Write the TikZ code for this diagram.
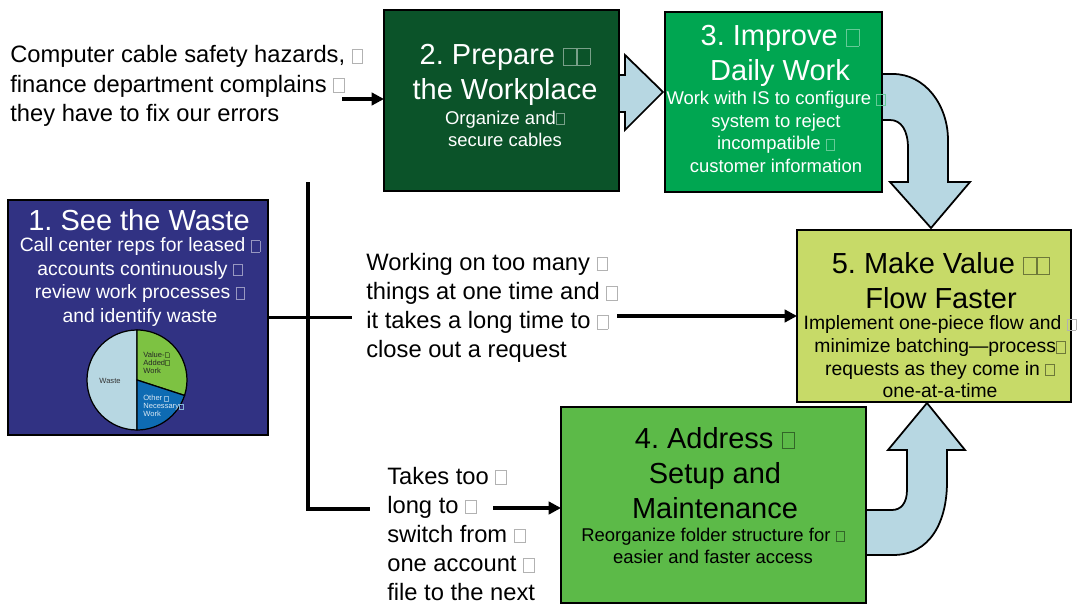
\documentclass[tikz,border=0pt]{standalone}
\usepackage{fontspec}
\setmainfont{Liberation Sans}
\usepackage{xcolor}
\usetikzlibrary{arrows.meta, positioning, calc}
\frenchspacing

\definecolor{navyboard}{RGB}{49,50,131}
\definecolor{darkleaf}{RGB}{11,83,41}
\definecolor{leaf}{RGB}{0,166,81}
\definecolor{grass}{RGB}{92,186,72}
\definecolor{lime}{RGB}{199,218,104}
\definecolor{skyarrow}{RGB}{183,215,226}
\definecolor{piegreen}{RGB}{125,194,66}
\definecolor{pieblue}{RGB}{14,107,179}

% hollow square left by the missing line-break glyphs
\newcommand{\tofu}[1][gray!60]{{\color{#1}\setlength{\fboxrule}{0.4pt}\setlength{\fboxsep}{0pt}\fbox{\rule{0pt}{0.55em}\rule{0.42em}{0pt}}}}

\tikzset{
  panel/.style={draw=black, line width=1.2pt, outer sep=0pt},
  heading/.style={font=\fontsize{16.5}{20}\selectfont, align=center, inner sep=0pt},
  body/.style={font=\fontsize{10.5}{12.8}\selectfont, align=center, inner sep=0pt},
  note/.style={font=\fontsize{13.5}{16.6}\selectfont, align=left, anchor=west, inner sep=0pt},
  pielabel/.style={font=\fontsize{4.3}{4.5}\selectfont, align=left, inner sep=0pt},
  link/.style={line width=2.2pt},
  flowarrow/.style={link, -{Triangle[length=7pt, width=7pt]}},
  bigarrow/.style={fill=skyarrow, draw=black, line width=1pt, line join=miter}
}

\begin{document}
\begin{tikzpicture}[x=0.02cm, y=-0.02cm]
  \useasboundingbox[fill=white] (0,0) rectangle (1080,605);

  % Block arrows (drawn first, boxes sit on top)
  \filldraw[bigarrow] (619,75) -- (625,75) -- (625,55) -- (663,92) -- (625,130)
    -- (625,112) -- (619,112) -- cycle;
  \filldraw[bigarrow] (880,74) -- (893,74) .. controls (925,74) and (948,105) .. (948,140)
    -- (948,182) -- (970,182) -- (931,228) -- (890,182) -- (908,182) -- (908,148)
    .. controls (908,130) and (901,120) .. (890,120) -- (880,120) -- cycle;
  \filldraw[bigarrow] (864,555) -- (893,555) .. controls (930,555) and (947,522) .. (947,482)
    -- (947,450) -- (965,450) -- (927,403) -- (888,450) -- (907,450) -- (907,490)
    .. controls (907,503) and (901,510) .. (892,510) -- (864,510) -- cycle;

  % Boxes
  \node[panel, fill=navyboard, minimum width=5.2cm, minimum height=4.7cm] (see) at (138,317.5) {};
  \node[panel, fill=darkleaf, minimum width=4.7cm, minimum height=3.62cm] (prep) at (501.5,100.5) {};
  \node[panel, fill=leaf, minimum width=4.34cm, minimum height=3.6cm] (improve) at (773.5,102) {};
  \node[panel, fill=lime, minimum width=5.48cm, minimum height=3.44cm] (flow) at (934,316) {};
  \node[panel, fill=grass, minimum width=6.1cm, minimum height=3.92cm] (setup) at (713.5,505) {};

  % 1. See the Waste
  \node[heading, white] (seeT) at (139,220) {1. See the Waste};
  \node[body, white, font=\fontsize{11}{13.4}\selectfont] (seeB) at (140,282)
    {Call center reps for leased \tofu[white!50!navyboard]\\accounts continuously \tofu[white!50!navyboard]\\review work processes \tofu[white!50!navyboard]\\and identify waste};
  \begin{scope}[shift={(137,380)}, x=0.02cm, y=0.02cm]
    \filldraw[fill=skyarrow, draw=black, line width=0.7pt] (0,0) -- (90:50) arc[start angle=90, end angle=270, radius=50] -- cycle;
    \filldraw[fill=piegreen, draw=black, line width=0.7pt] (0,0) -- (90:50) arc[start angle=90, end angle=-18, radius=50] -- cycle;
    \filldraw[fill=pieblue, draw=black, line width=0.7pt] (0,0) -- (-18:50) arc[start angle=-18, end angle=-90, radius=50] -- cycle;
    \node[pielabel, text=black!80] (waste) at (-27,-1) {Waste};
    \node[pielabel, anchor=west, text=black!85] (added) at (6,17.5) {Value-\tofu[black!40!piegreen]\\Added\tofu[black!40!piegreen]\\Work};
    \node[pielabel, anchor=west, text=white!85!pieblue] (other) at (6,-26) {Other \tofu[white!50!pieblue]\\Necessary\tofu[white!50!pieblue]\\Work};
  \end{scope}

  % 2. Prepare the Workplace
  \node[heading, white] (prepT) at (505,75) {2. Prepare \tofu[white!45!darkleaf]\tofu[white!45!darkleaf]\\the Workplace};
  \node[body, white] (prepB) at (505,129) {Organize and\tofu[white!45!darkleaf]\\secure cables};

  % 3. Improve Daily Work
  \node[heading, white] (improveT) at (780,56) {3. Improve \tofu[white!40!leaf]\\Daily Work};
  \node[body, white] (improveB) at (776,132) {Work with IS to configure \tofu[white!40!leaf]\\system to reject\\incompatible \tofu[white!40!leaf]\\customer information};

  % 5. Make Value Flow Faster
  \node[heading] (flowT) at (941,281) {5. Make Value \tofu[black!45!lime]\tofu[black!45!lime]\\Flow Faster};
  \node[body, font=\fontsize{11}{12.9}\selectfont] (flowB) at (940,357) {Implement one-piece flow and \tofu\\minimize batching—process\tofu[black!45!lime]\\requests as they come in \tofu[black!45!lime]\\one-at-a-time};

  % 4. Address Setup and Maintenance
  \node[heading] (setupT) at (715,473) {4. Address \tofu[black!45!grass]\\Setup and\\Maintenance};
  \node[body] (setupB) at (713,546) {Reorganize folder structure for \tofu[black!45!grass]\\easier and faster access};

  % Problems
  \node[note] (hazard) at (10,86) {Computer cable safety hazards, \tofu\\finance department complains \tofu\\they have to fix our errors};
  \node[note] (many) at (366,308) {Working on too many \tofu\\things at one time and \tofu\\it takes a long time to \tofu\\close out a request};
  \node[note] (switch) at (387,534) {Takes too \tofu\\long to \tofu\\switch from \tofu\\one account \tofu\\file to the next};

  % Connectors
  \coordinate (hazardOut) at (342,99);
  \coordinate (trunkTop) at (308,182);
  \coordinate (trunkBot) at (308,509);
  \coordinate (midStub) at (352,317.5);
  \coordinate (lowStub) at (370,509);
  \coordinate (midOut) at (617,316);
  \coordinate (lowOut) at (493,508);
  \draw[flowarrow] (hazardOut) -- (prep.west |- hazardOut);
  \draw[link] (see.east) -- (midStub);
  \draw[link] (trunkTop) -- (trunkBot) -- (lowStub);
  \draw[flowarrow] (midOut) -- (flow.west);
  \draw[flowarrow] (lowOut) -- (setup.west |- lowOut);
\end{tikzpicture}
\end{document}
